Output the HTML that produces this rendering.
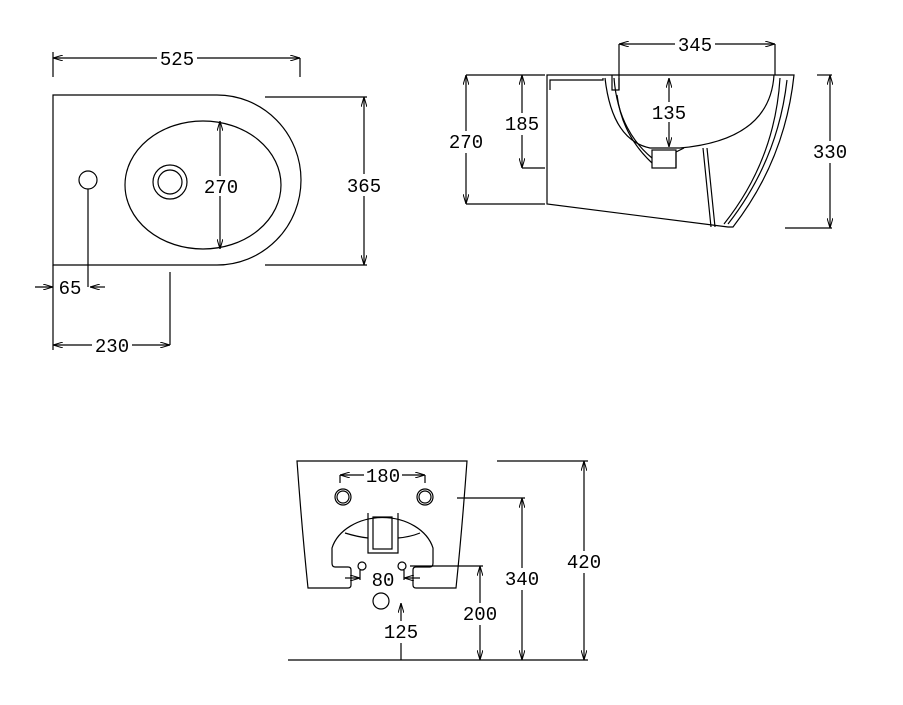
<!DOCTYPE html>
<html><head><meta charset="utf-8"><style>html,body{margin:0;padding:0;background:#fff}svg{display:block}</style></head>
<body>
<svg width="903" height="705" viewBox="0 0 903 705" xmlns="http://www.w3.org/2000/svg">
<defs><marker id="a" markerWidth="10" markerHeight="6" refX="10" refY="3" orient="auto-start-reverse" markerUnits="userSpaceOnUse"><path d="M0,0 L10,3 L0,6" fill="none" stroke="#000" stroke-width="1"/></marker></defs>
<g fill="none" stroke="#000" stroke-width="1.2">
<!-- top view -->
<path d="M53,95 H217 A84,85 0 0 1 217,265 H53 Z"/>
<ellipse cx="203" cy="185" rx="78" ry="64"/>
<circle cx="170" cy="182" r="17"/><circle cx="170" cy="182" r="12"/>
<circle cx="88" cy="180" r="9"/>
<line x1="220" y1="121" x2="220" y2="249" marker-start="url(#a)" marker-end="url(#a)"/>
<line x1="53" y1="58" x2="300" y2="58" marker-start="url(#a)" marker-end="url(#a)"/>
<line x1="53" y1="52" x2="53" y2="77"/><line x1="300" y1="58" x2="300" y2="77"/>
<line x1="364" y1="97" x2="364" y2="265" marker-start="url(#a)" marker-end="url(#a)"/>
<line x1="265" y1="97" x2="367" y2="97"/><line x1="265" y1="265" x2="367" y2="265"/>
<line x1="88" y1="189" x2="88" y2="287"/>
<line x1="35" y1="287" x2="53" y2="287" marker-end="url(#a)"/>
<line x1="105" y1="287" x2="90" y2="287" marker-end="url(#a)"/>
<line x1="53" y1="265" x2="53" y2="350"/><line x1="170" y1="272" x2="170" y2="345"/>
<line x1="53" y1="345" x2="170" y2="345" marker-start="url(#a)" marker-end="url(#a)"/>
<!-- side view -->
<path d="M547,75 H794 Q785,160 733,227 L728,227 L547,204 Z"/>
<path d="M550,90 V80 H603 V78"/>
<path d="M787,80 Q778,160 728,224"/>
<path d="M780,78 Q775,160 724,224"/>
<path d="M774,75 Q770,140 680,148 H650 Q612,140 605,78"/>
<path d="M614,78 Q618,130 652,158"/>
<path d="M617,95 Q622,135 652,163"/>
<path d="M612,75 V90 H619 V78"/>
<rect x="652" y="150" width="24" height="18"/>
<path d="M676,168 V152 L684,148"/>
<path d="M703,148 L711,227 M707,148 L715,227"/>
<line x1="619" y1="44" x2="775" y2="44" marker-start="url(#a)" marker-end="url(#a)"/>
<line x1="619" y1="44" x2="619" y2="90"/><line x1="775" y1="44" x2="775" y2="75"/>
<line x1="669" y1="78" x2="669" y2="147" marker-start="url(#a)" marker-end="url(#a)"/>
<line x1="522" y1="75" x2="522" y2="168" marker-start="url(#a)" marker-end="url(#a)"/>
<line x1="522" y1="168" x2="545" y2="168"/>
<line x1="466" y1="75" x2="466" y2="204" marker-start="url(#a)" marker-end="url(#a)"/>
<line x1="466" y1="75" x2="545" y2="75"/><line x1="466" y1="204" x2="545" y2="204"/>
<line x1="830" y1="75" x2="830" y2="228" marker-start="url(#a)" marker-end="url(#a)"/>
<line x1="817" y1="75" x2="832" y2="75"/><line x1="785" y1="228" x2="832" y2="228"/>
<!-- front view -->
<path d="M297,461 H467 Q462,530 456,588 H416 Q413,588 413,585 V570 Q413,567 416,567 H430 Q433,567 433,563 V548 A52,40 0 0 0 332,548 V563 Q332,567 335,567 H348 Q351,567 351,570 V585 Q351,588 348,588 H308 Q302,530 297,461 Z"/>
<path d="M368,513 V553 H398 V513"/>
<rect x="373" y="517" width="19" height="32"/>
<path d="M345,533 Q358,537 368,538 M398,538 Q410,537 420,533"/>
<circle cx="343" cy="497" r="8"/><circle cx="343" cy="497" r="6"/>
<circle cx="425" cy="497" r="8"/><circle cx="425" cy="497" r="6"/>
<line x1="340" y1="475" x2="425" y2="475" marker-start="url(#a)" marker-end="url(#a)"/>
<line x1="340" y1="475" x2="340" y2="483"/><line x1="425" y1="475" x2="425" y2="483"/>
<circle cx="362" cy="566" r="4"/><circle cx="402" cy="566" r="4"/>
<line x1="345" y1="578" x2="360" y2="578" marker-end="url(#a)"/>
<line x1="420" y1="578" x2="404" y2="578" marker-end="url(#a)"/>
<line x1="360" y1="570" x2="360" y2="580"/><line x1="404" y1="570" x2="404" y2="580"/>
<circle cx="381" cy="601" r="8"/>
<line x1="288" y1="660" x2="588" y2="660"/>
<line x1="401" y1="603" x2="401" y2="660" marker-start="url(#a)"/>
<line x1="480" y1="566" x2="480" y2="660" marker-start="url(#a)" marker-end="url(#a)"/>
<line x1="410" y1="566" x2="483" y2="566"/>
<line x1="522" y1="498" x2="522" y2="660" marker-start="url(#a)" marker-end="url(#a)"/>
<line x1="457" y1="498" x2="525" y2="498"/>
<line x1="584" y1="461" x2="584" y2="660" marker-start="url(#a)" marker-end="url(#a)"/>
<line x1="497" y1="461" x2="588" y2="461"/>
</g>
<g font-family="'Liberation Mono','DejaVu Sans Mono',monospace" font-size="19" text-anchor="middle">
<g fill="#fff">
<rect x="157" y="48" width="40" height="20"/><rect x="201" y="176" width="40" height="20"/>
<rect x="344" y="174" width="40" height="22"/><rect x="55" y="277" width="30" height="20"/>
<rect x="92" y="335" width="40" height="20"/><rect x="675" y="34" width="40" height="20"/>
<rect x="649" y="102" width="40" height="20"/><rect x="502" y="113" width="40" height="22"/>
<rect x="446" y="131" width="40" height="22"/><rect x="810" y="141" width="40" height="22"/>
<rect x="364" y="465" width="38" height="20"/><rect x="370" y="569" width="26" height="20"/>
<rect x="381" y="621" width="40" height="22"/><rect x="460" y="603" width="40" height="22"/>
<rect x="502" y="568" width="40" height="22"/><rect x="564" y="551" width="40" height="22"/>
</g>
<text x="177" y="65">525</text><text x="221" y="193">270</text><text x="364" y="192">365</text>
<text x="70" y="294">65</text><text x="112" y="352">230</text>
<text x="695" y="51">345</text><text x="669" y="119">135</text><text x="522" y="130">185</text>
<text x="466" y="148">270</text><text x="830" y="158">330</text>
<text x="383" y="482">180</text><text x="383" y="586">80</text><text x="401" y="638">125</text>
<text x="480" y="620">200</text><text x="522" y="585">340</text><text x="584" y="568">420</text>
</g>
</svg>
</body></html>
